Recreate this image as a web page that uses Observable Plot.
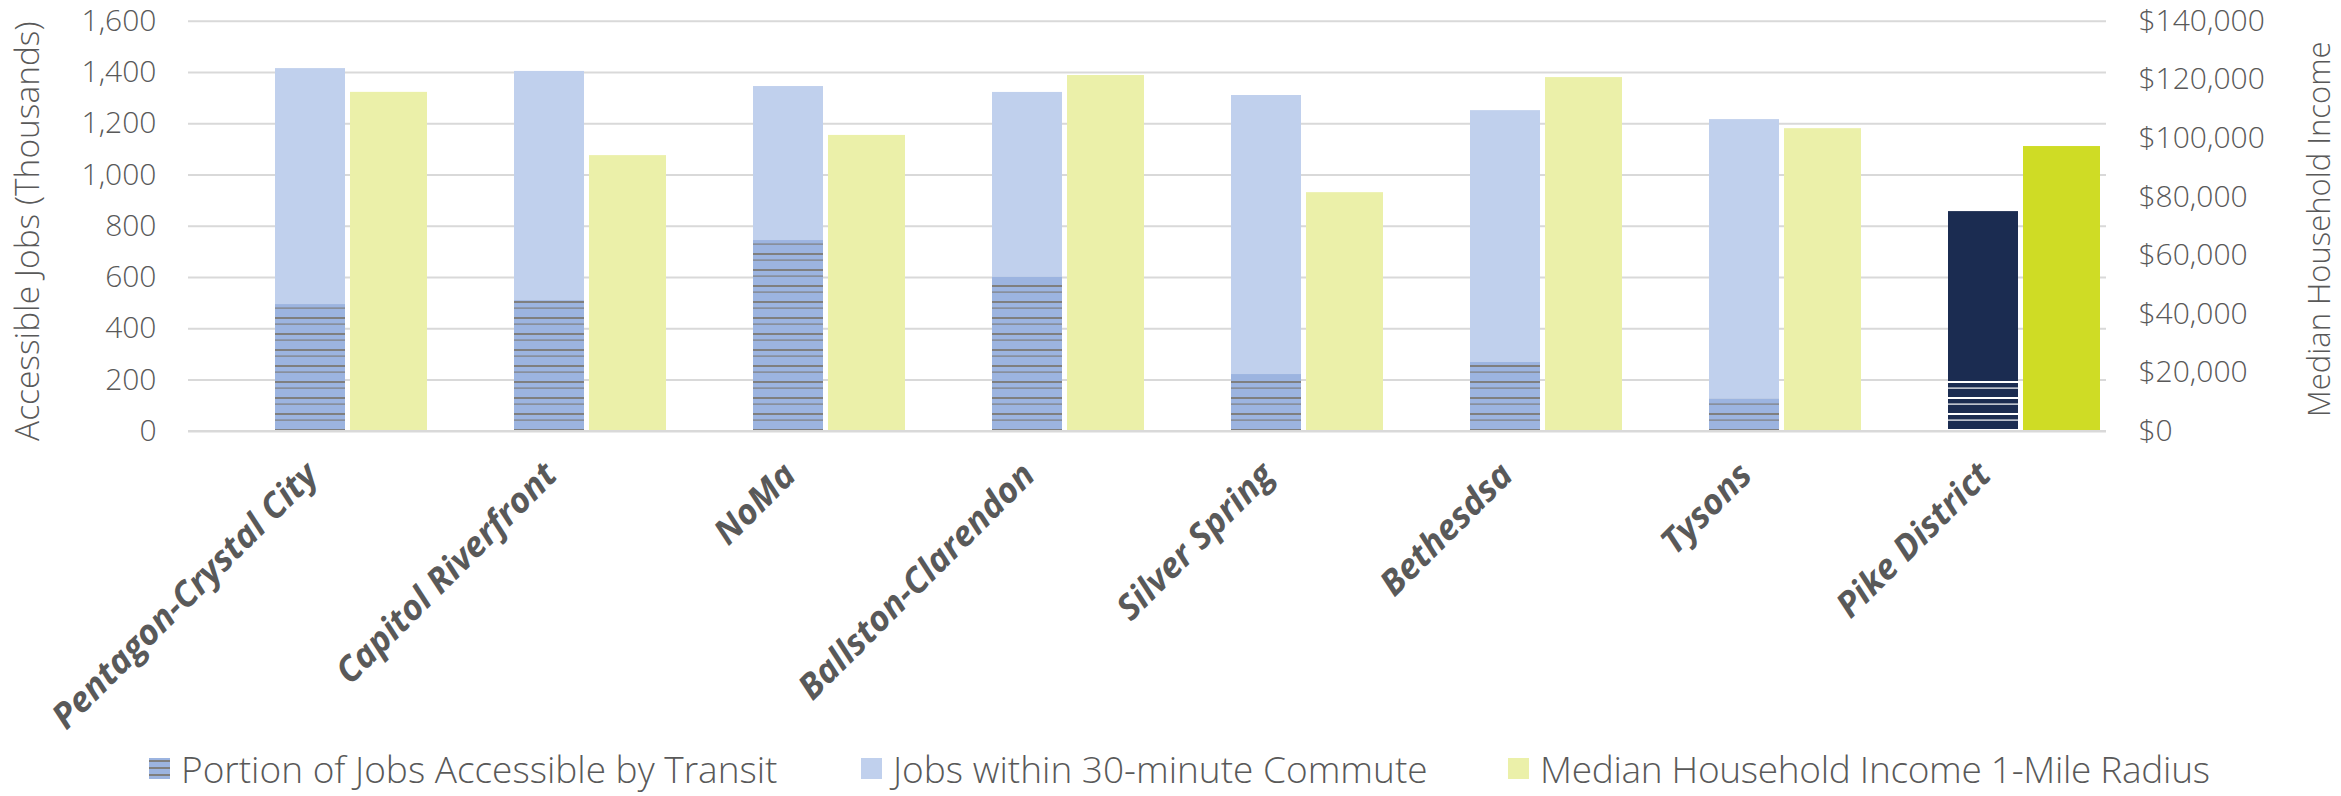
<!DOCTYPE html>
<html>
<head>
<meta charset="utf-8">
<script src="https://cdn.jsdelivr.net/npm/d3@7"></script>
<script src="https://cdn.jsdelivr.net/npm/@observablehq/plot@0.6"></script>
<style>
  html, body { margin: 0; padding: 0; background: #fff; overflow: hidden; }
  #chart { position: relative; width: 2341px; }
  #legend { position: relative; width: 2341px; height: 56px; font-family: "Open Sans", sans-serif; font-weight: 300; color: #595959; font-size: 37px; }
  .item { position: absolute; top: 0; height: 56px; display: flex; align-items: center; white-space: nowrap; }
  .item svg { margin-right: 11px; }
</style>
</head>
<body>
<!-- Shared fill patterns for the transit portion of the job bars -->
<svg width="0" height="0" style="position:absolute">
  <defs>
    <pattern id="hatchTransit" patternUnits="userSpaceOnUse" width="16" height="16">
      <rect width="16" height="16" fill="#9cb4e0"></rect>
      <rect y="3.5" width="16" height="1.2" fill="#7f7f7f"></rect>
      <rect y="13" width="16" height="2" fill="#7f7f7f"></rect>
    </pattern>
    <pattern id="hatchPike" patternUnits="userSpaceOnUse" width="16" height="16">
      <rect width="16" height="16" fill="#1b2c51"></rect>
      <rect y="3.5" width="16" height="1.2" fill="#ffffff"></rect>
      <rect y="13" width="16" height="2" fill="#ffffff"></rect>
    </pattern>
    <pattern id="hatchSwatch" patternUnits="userSpaceOnUse" width="21" height="7">
      <rect width="21" height="7" fill="#9cb4e0"></rect>
      <rect y="2" width="21" height="2" fill="#7f7f7f"></rect>
    </pattern>
  </defs>
</svg>
<div id="chart"></div>
<div id="legend">
  <div class="item" style="left:149px">
    <svg width="21" height="21"><rect width="21" height="21" fill="url(#hatchSwatch)"></rect></svg>
    <span>Portion of Jobs Accessible by Transit</span>
  </div>
  <div class="item" style="left:861px">
    <svg width="21" height="21"><rect width="21" height="21" fill="#c0d0ed"></rect></svg>
    <span>Jobs within 30-minute Commute</span>
  </div>
  <div class="item" style="left:1508px">
    <svg width="21" height="21"><rect width="21" height="21" fill="#ebf0a9"></rect></svg>
    <span style="letter-spacing:-0.3px">Median Household Income 1-Mile Radius</span>
  </div>
</div>
<script>
// Activity centers, in display order
const categories = [
  "Pentagon-Crystal City", "Capitol Riverfront", "NoMa", "Ballston-Clarendon",
  "Silver Spring", "Bethesdsa", "Tysons", "Pike District"
];
// Jobs reachable within a 30-minute commute (thousands)
const jobsWithin30 = [1415, 1404, 1345, 1322, 1310, 1251, 1216, 857];
// Portion of those jobs accessible by transit (thousands)
const jobsByTransit = [494, 509, 744, 600, 221, 268, 124, 197];
// Median household income within a 1-mile radius (USD)
const medianIncome = [115700, 94100, 101000, 121450, 81450, 120750, 103300, 97200];

// Axis ticks
const jobTicks = [0, 200, 400, 600, 800, 1000, 1200, 1400, 1600];
const incomeTicks = [0, 20000, 40000, 60000, 80000, 100000, 120000, 140000];

const highlight = "Pike District";
const jobsMax = 1600;
const incomeMax = 140000;
const incomeToJobs = v => v / incomeMax * jobsMax;

const rows = categories.map((category, i) => ({
  category,
  within30: jobsWithin30[i],
  transit: jobsByTransit[i],
  income: medianIncome[i]
}));

const textColor = "#595959";
const lightFont = "'Open Sans', sans-serif";

const chart = Plot.plot({
  width: 2341,
  height: 740,
  marginLeft: 188,
  marginRight: 235,
  marginTop: 20.7,
  marginBottom: 309.3,
  x: { type: "band", domain: categories, padding: 0, axis: null },
  y: { domain: [0, jobsMax], axis: null },
  color: { type: "identity" },
  style: { fontFamily: lightFont, color: textColor, background: "transparent" },
  marks: [
    // horizontal gridlines
    Plot.ruleY(jobTicks.slice(1), { stroke: "#d9d9d9", strokeWidth: 2 }),
    // total jobs within a 30-minute commute
    Plot.barY(rows, {
      x: "category", y: "within30",
      fill: d => d.category === highlight ? "#1b2c51" : "#c0d0ed",
      insetLeft: 84, insetRight: 85
    }),
    // transit-accessible portion, hatched
    Plot.barY(rows, {
      x: "category", y: "transit",
      fill: d => d.category === highlight ? "url(#hatchPike)" : "url(#hatchTransit)",
      insetLeft: 84, insetRight: 85
    }),
    // median household income on the secondary scale
    Plot.barY(rows, {
      x: "category", y: d => incomeToJobs(d.income),
      fill: d => d.category === highlight ? "#cfdc25" : "#ebf0a9",
      insetLeft: 159, insetRight: 3
    }),
    // baseline
    Plot.ruleY([0], { stroke: "#d9d9d9", strokeWidth: 2.5 }),
    // left tick labels
    Plot.text(jobTicks, {
      y: d => d, text: d => d3.format(",")(d),
      frameAnchor: "left", textAnchor: "end", dx: -32,
      fontSize: 30, fontWeight: 300, fill: textColor
    }),
    // right tick labels
    Plot.text(incomeTicks, {
      y: d => incomeToJobs(d), text: d => "$" + d3.format(",")(d),
      frameAnchor: "right", textAnchor: "start", dx: 32,
      fontSize: 30, fontWeight: 300, fill: textColor
    }),
    // axis titles
    Plot.text(["Accessible Jobs (Thousands)"], {
      frameAnchor: "left", textAnchor: "middle", rotate: -90, dx: -160, dy: 5,
      fontSize: 33.5, fontWeight: 300, fill: textColor
    }),
    Plot.text(["Median Household Income"], {
      frameAnchor: "right", textAnchor: "middle", rotate: -90, dx: 214, dy: 3,
      fontSize: 31, fontWeight: 300, fill: textColor
    }),
    // category labels
    Plot.text(categories, {
      x: d => d, text: d => d,
      frameAnchor: "bottom", textAnchor: "end", rotate: -45,
      dx: 9, dy: 46,
      fontSize: 35, fontWeight: "bold", fontStyle: "italic", fill: textColor
    })
  ]
});

document.getElementById("chart").appendChild(chart);
</script>
</body>
</html>
